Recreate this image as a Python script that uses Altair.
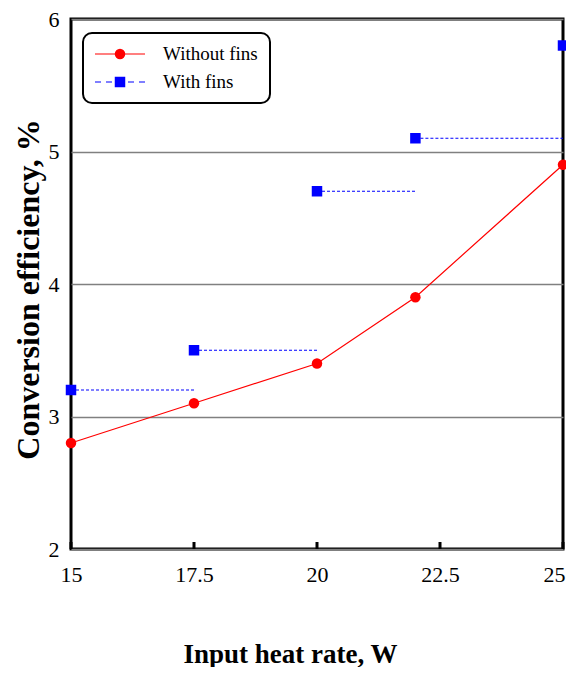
import altair as alt
import pandas as pd

# ---- data ----
x_vals = [15, 17.5, 20, 22, 25]
without_fins = [2.8, 3.1, 3.4, 3.9, 4.9]
with_fins = [3.2, 3.5, 4.7, 5.1, 5.8]
x_ticks = [15, 17.5, 20, 22.5, 25]
y_ticks = [2, 3, 4, 5, 6]
series_names = ["Without fins", "With fins"]
series_colors = ["#FF0000", "#0000FF"]
series_shapes = ["circle", "square"]

W, H = 492, 530
FONT = "Liberation Serif"

red = pd.DataFrame({"x": x_vals, "y": without_fins})
blue = pd.DataFrame({"x": x_vals, "y": with_fins})
seg = pd.DataFrame({"x": x_vals[:-1], "x2": x_vals[1:], "y": with_fins[:-1]})
ticks_df = pd.DataFrame({"x": x_ticks})

xs = alt.Scale(domain=[15, 25], nice=False, zero=False)
ys = alt.Scale(domain=[2, 6], nice=False, zero=False)

x_axis = alt.Axis(values=x_ticks, format=".1~f", title="Input heat rate, W",
                  grid=False, labelPadding=15, labelFont=FONT, labelFontSize=22,
                  labelFlush=False, labelColor="black",
                  labelOffset={"condition": {"test": "datum.value == 25", "value": -9},
                               "value": 0},
                  titleFont=FONT, titleFontSize=27, titleFontWeight="bold",
                  titleBaseline="alphabetic", titleY=113, titleX=219,
                  titleAlign="center")
y_axis = alt.Axis(values=y_ticks, format=".0f", title="Conversion efficiency, %",
                  grid=True, gridColor="#808080", gridWidth=1.5,
                  labelPadding=12, labelFont=FONT, labelFontSize=22,
                  labelFlush=False, labelColor="black", titleFont=FONT,
                  titleFontSize=32, titleFontWeight="bold", titleAngle=-90,
                  titleBaseline="middle", titleAlign="center", titleX=-43,
                  titleY=270)

base_red = alt.Chart(red)
axes_layer = base_red.mark_line(color="#FF0000", strokeWidth=1.2).encode(
    x=alt.X("x:Q", scale=xs, axis=x_axis),
    y=alt.Y("y:Q", scale=ys, axis=y_axis),
)

ticks_layer = alt.Chart(ticks_df).mark_rule(color="black", strokeWidth=3).encode(
    x=alt.X("x:Q", scale=xs),
    y=alt.value(H),
    y2=alt.value(H - 7),
)

seg_layer = alt.Chart(seg).mark_rule(color="#0000FF", strokeWidth=1.2,
                                     strokeDash=[3, 2]).encode(
    x=alt.X("x:Q", scale=xs),
    x2="x2:Q",
    y=alt.Y("y:Q", scale=ys),
)

red_pts = base_red.mark_point(filled=True, shape="circle", size=110,
                              color="#FF0000", opacity=1).encode(
    x=alt.X("x:Q", scale=xs), y=alt.Y("y:Q", scale=ys))
blue_pts = alt.Chart(blue).mark_point(filled=True, shape="square", size=110,
                                      color="#0000FF", opacity=1).encode(
    x=alt.X("x:Q", scale=xs), y=alt.Y("y:Q", scale=ys))

# ---- manual legend (pixel positions inside plot area) ----
leg_box = alt.Chart(pd.DataFrame({"a": [0]})).mark_rect(
    fill="white", stroke="black", strokeWidth=2, cornerRadius=9).encode(
    x=alt.value(12), x2=alt.value(199), y=alt.value(14), y2=alt.value(84))

leg_df = pd.DataFrame({
    "name": series_names,
    "color": series_colors,
    "shape": series_shapes,
    "py": [35, 63],
})
leg_red_line = alt.Chart(leg_df.iloc[[0]]).mark_rule(color="#FF0000", strokeWidth=1.2).encode(
    x=alt.value(24), x2=alt.value(74), y=alt.Y("py:Q", scale=None))
leg_blue_line = alt.Chart(leg_df.iloc[[1]]).mark_rule(color="#0000FF", strokeWidth=1.2,
                                                      strokeDash=[6, 5]).encode(
    x=alt.value(24), x2=alt.value(76), y=alt.Y("py:Q", scale=None))
leg_red_pt = alt.Chart(leg_df.iloc[[0]]).mark_point(filled=True, shape="circle", size=110,
                                                    color="#FF0000", opacity=1).encode(
    x=alt.value(49), y=alt.Y("py:Q", scale=None))
leg_blue_pt = alt.Chart(leg_df.iloc[[1]]).mark_point(filled=True, shape="square", size=110,
                                                     color="#0000FF", opacity=1).encode(
    x=alt.value(49), y=alt.Y("py:Q", scale=None))
leg_text = alt.Chart(leg_df).mark_text(align="left", baseline="middle", font=FONT,
                                       fontSize=19, color="black").encode(
    x=alt.value(92), y=alt.Y("py:Q", scale=None), text="name:N")

chart = alt.layer(
    axes_layer, ticks_layer, seg_layer, red_pts, blue_pts,
    leg_box, leg_red_line, leg_blue_line, leg_red_pt, leg_blue_pt, leg_text,
).properties(
    width=W, height=H,
    autosize=alt.AutoSizeParams(type="none"),
    padding={"left": 63, "top": 11, "right": 3, "bottom": 118},
).configure_view(
    stroke="black", strokeWidth=3
).configure_axis(
    domain=False, ticks=False, labelFont=FONT, titleFont=FONT,
    labelFontSize=22, labelColor="black", titleColor="black",
)

chart.save("out.html", embed_options={"renderer": "svg", "actions": False})
